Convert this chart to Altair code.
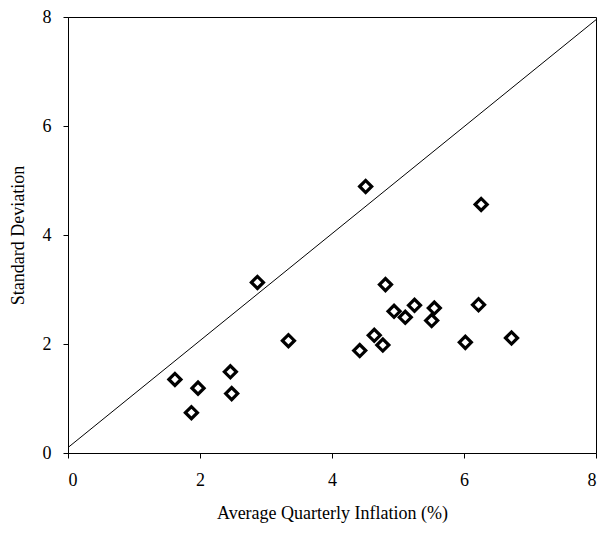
import altair as alt
import pandas as pd

inflation = [1.62, 1.87, 1.97, 2.46, 2.48, 2.87, 3.34, 4.42, 4.51, 4.64, 4.77,
             4.81, 4.94, 5.11, 5.25, 5.51, 5.55, 6.02, 6.22, 6.26, 6.72]
std_dev = [1.35, 0.74, 1.19, 1.49, 1.09, 3.13, 2.06, 1.88, 4.89, 2.16, 1.98,
           3.09, 2.60, 2.49, 2.71, 2.43, 2.66, 2.03, 2.72, 4.56, 2.11]

line_x = [0, 8]
line_y = [0.1, 7.95]

pts = pd.DataFrame({"x": inflation, "y": std_dev})
ln = pd.DataFrame({"x": line_x, "y": line_y})

FONT = "Liberation Serif"

xscale = alt.Scale(domain=[0, 8], nice=False, zero=True)
yscale = alt.Scale(domain=[0, 8], nice=False, zero=True)

xaxis = alt.Axis(title="Average Quarterly Inflation (%)", values=[0, 2, 4, 6, 8],
                 format="d", grid=False, tickSize=5, labelPadding=13, titlePadding=15,
                 domainColor="black", tickColor="black", labelColor="black",
                 titleColor="black")
yaxis = alt.Axis(title="Standard Deviation", values=[0, 2, 4, 6, 8],
                 format="d", grid=False, tickSize=5, labelPadding=12, titlePadding=15,
                 domainColor="black", tickColor="black", labelColor="black",
                 titleColor="black")

line = alt.Chart(ln).mark_line(color="black", strokeWidth=1).encode(
    x=alt.X("x:Q", scale=xscale, axis=xaxis),
    y=alt.Y("y:Q", scale=yscale, axis=yaxis),
)

points = alt.Chart(pts).mark_point(
    shape="diamond", size=145, filled=False, color="black", strokeWidth=3.2, opacity=1
).encode(
    x=alt.X("x:Q", scale=xscale),
    y=alt.Y("y:Q", scale=yscale),
)

chart = alt.layer(line, points).properties(
    width=528, height=436,
    autosize=alt.AutoSizeParams(type="none"),
    padding={"left": 60, "top": 9, "right": 4, "bottom": 73},
).configure_view(
    stroke="black", strokeWidth=1
).configure_axis(
    labelFont=FONT, titleFont=FONT, labelFontSize=18, titleFontSize=18,
    titleFontWeight="normal", domainWidth=1, tickWidth=1
)

chart.save("out.html", embed_options={"renderer": "svg", "actions": False})
